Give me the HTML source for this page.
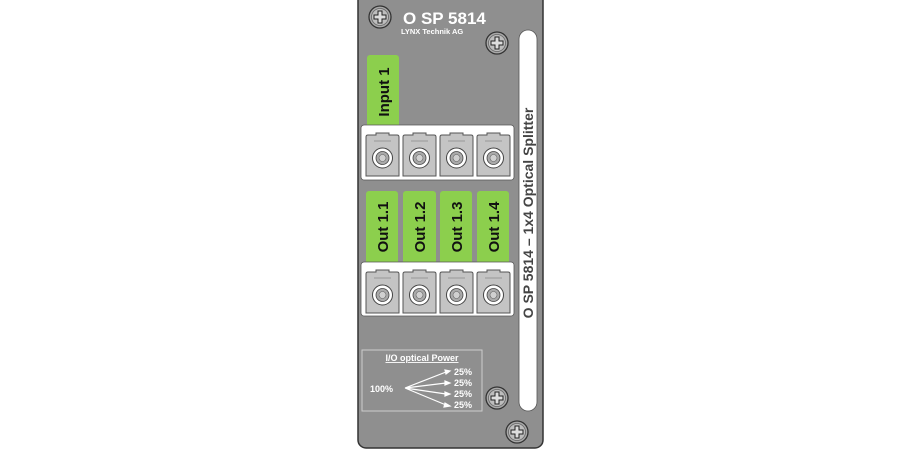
<!DOCTYPE html>
<html><head><style>body{margin:0;background:#fff}svg{display:block}</style></head><body>
<svg width="900" height="450" viewBox="0 0 900 450" xmlns="http://www.w3.org/2000/svg" font-family="Liberation Sans, sans-serif">
<defs>
<g id="screw"><circle r="11" fill="#a8a8a8" stroke="#333" stroke-width="1.3"/><circle r="8.5" fill="#bdbdbd" stroke="#666" stroke-width="0.8"/><path d="M-2,-6h4v4h4v4h-4v4h-4v-4h-4v-4h4z" fill="#ddd" stroke="#222" stroke-width="1"/></g>
<g id="conn"><path d="M0,4 q0,-2 2,-2 h8 v-2 h13 v2 h8 q2,0 2,2 v39 h-33z" fill="#c4c4c4" stroke="#555" stroke-width="1"/><path d="M8,8 h17" stroke="#888" stroke-width="0.8"/><circle cx="16.5" cy="25" r="10" fill="#fff" stroke="#444" stroke-width="1"/><circle cx="16.5" cy="25" r="6.5" fill="#aaa" stroke="#444" stroke-width="0.8"/><circle cx="16.5" cy="25" r="3.5" fill="#d0d0d0" stroke="#666" stroke-width="0.6"/></g>
</defs>
<rect x="358" y="-8" width="185" height="456" rx="8" fill="#8f8f8f" stroke="#333" stroke-width="1.5"/>
<text x="403" y="24" font-size="17" font-weight="bold" fill="#fff">O SP 5814</text>
<text x="401" y="34" font-size="7.5" font-weight="bold" fill="#fff">LYNX Technik AG</text>
<use href="#screw" x="380" y="17"/><use href="#screw" x="497" y="43"/><use href="#screw" x="497" y="398"/><use href="#screw" x="517" y="432"/>
<rect x="519" y="30" width="18" height="381" rx="9" fill="#fff" stroke="#555" stroke-width="0.8"/>
<text transform="translate(533,213) rotate(-90)" text-anchor="middle" font-size="14" font-weight="bold" fill="#444">O SP 5814 – 1x4 Optical Splitter</text>
<rect x="367" y="55" width="32" height="74" rx="3" fill="#8ccf4d"/>
<text transform="translate(389,92) rotate(-90)" text-anchor="middle" font-size="15" font-weight="bold" fill="#111">Input 1</text>
<rect x="361" y="125" width="153" height="55" rx="3" fill="#fff" stroke="#555" stroke-width="0.8"/>
<use href="#conn" x="366" y="133"/><use href="#conn" x="403" y="133"/><use href="#conn" x="440" y="133"/><use href="#conn" x="477" y="133"/>
<g fill="#8ccf4d"><rect x="366" y="191" width="32" height="74" rx="3"/><rect x="403" y="191" width="33" height="74" rx="3"/><rect x="440" y="191" width="32" height="74" rx="3"/><rect x="477" y="191" width="32" height="74" rx="3"/></g>
<g font-size="15" font-weight="bold" fill="#111" text-anchor="middle">
<text transform="translate(388,227) rotate(-90)">Out 1.1</text>
<text transform="translate(425,227) rotate(-90)">Out 1.2</text>
<text transform="translate(462,227) rotate(-90)">Out 1.3</text>
<text transform="translate(499,227) rotate(-90)">Out 1.4</text></g>
<rect x="361" y="262" width="153" height="54" rx="3" fill="#fff" stroke="#555" stroke-width="0.8"/>
<use href="#conn" x="366" y="270"/><use href="#conn" x="403" y="270"/><use href="#conn" x="440" y="270"/><use href="#conn" x="477" y="270"/>
<rect x="362" y="350" width="120" height="61" fill="none" stroke="#ccc" stroke-width="1"/>
<text x="422" y="361" text-anchor="middle" font-size="9" font-weight="bold" fill="#fff" text-decoration="underline">I/O optical Power</text>
<text x="370" y="392" font-size="9" font-weight="bold" fill="#fff">100%</text>
<g stroke="#fff" stroke-width="1.2" fill="#fff"><path d="M405,388 L446,372 M405,388 L446,383 M405,388 L446,394 M405,388 L446,405" fill="none"/>
<path d="M450,371l-5,-1l1,4z M450,383l-5,-2l0,4z M450,394l-5,-2l0,4z M450,406l-5,-3l-1,4z"/></g>
<g font-size="9" font-weight="bold" fill="#fff"><text x="454" y="375">25%</text><text x="454" y="386">25%</text><text x="454" y="397">25%</text><text x="454" y="408">25%</text></g>
</svg>
</body></html>
